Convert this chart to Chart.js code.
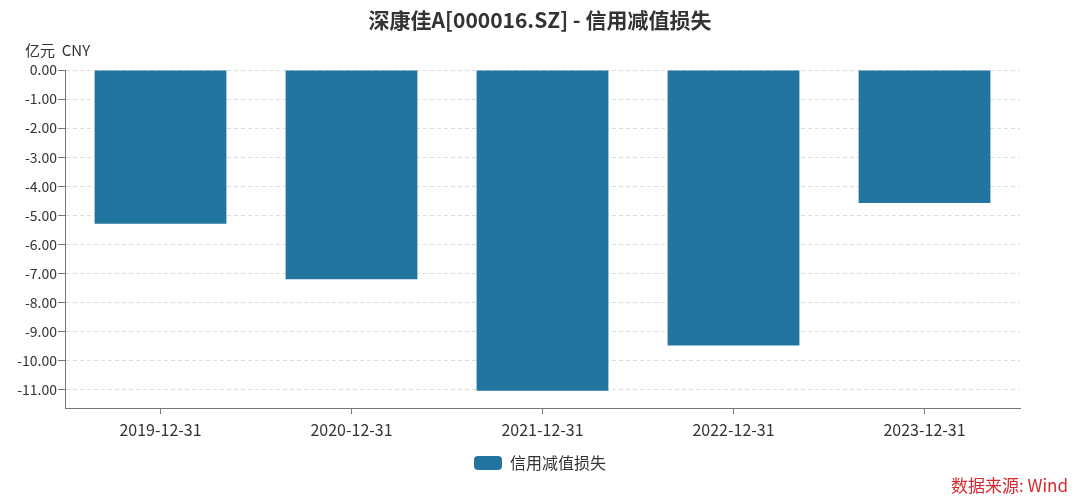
<!DOCTYPE html>
<html>
<head>
<meta charset="utf-8">
<script src="https://cdn.jsdelivr.net/npm/chart.js@4/dist/chart.umd.min.js"></script>
<style>
    body { margin: 0; background: #fff; }
    #wrap { width: 1080px; height: 504px; }
</style>
</head>
<body>
<div id="wrap"><canvas id="chart" width="1080" height="504"></canvas></div>
<script>
// Data
const categories = ["2019-12-31", "2020-12-31", "2021-12-31", "2022-12-31", "2023-12-31"];
const lossValues = [-5.29, -7.19, -11.03, -9.47, -4.57];
const seriesName = "信用减值损失";
const titleText = "深康佳A[000016.SZ] - 信用减值损失";
const unitText = "亿元  CNY";
const sourceText = "数据来源: Wind";

const FONT = "'Noto Sans CJK SC', 'Noto Sans', sans-serif";

// Title, unit and source text
const extraText = {
    id: "extraText",
    afterDraw(chart) {
        const ctx = chart.ctx;
        ctx.save();
        ctx.fillStyle = "#333";
        ctx.font = "bold 21px " + FONT;
        ctx.textAlign = "center";
        ctx.textBaseline = "middle";
        ctx.fillText(titleText, 540, 20);

        ctx.font = "15px " + FONT;
        ctx.textAlign = "left";
        ctx.fillText(unitText, 25, 50);

        ctx.fillStyle = "#d7282f";
        ctx.font = "17px " + FONT;
        ctx.textAlign = "right";
        ctx.fillText(sourceText, 1068, 486);
        ctx.restore();
    }
};

const ctx = document.getElementById("chart").getContext("2d");
new Chart(ctx, {
    type: "bar",
    data: {
        labels: categories,
        datasets: [
            {
                label: seriesName,
                data: lossValues,
                backgroundColor: "#2275a0",
                borderWidth: 0,
                categoryPercentage: 1,
                barPercentage: 0.69,
            },
        ],
    },
    options: {
        responsive: false,
        animation: false,
        layout: {
            padding: { left: 0, right: 0, top: 70, bottom: 23 },
        },
        plugins: {
            title: { display: false },
            tooltip: { enabled: false },
            legend: {
                position: "bottom",
                labels: {
                    boxWidth: 28,
                    boxHeight: 14,
                    padding: 10,
                    color: "#333",
                    useBorderRadius: true,
                    borderRadius: 4,
                    font: { family: FONT, size: 16 },
                },
            },
        },
        scales: {
            x: {
                grid: {
                    display: true,
                    offset: false,
                    drawOnChartArea: false,
                    drawTicks: true,
                    tickLength: 6,
                    tickColor: "#777",
                },
                border: { display: true, color: "#777", width: 1 },
                ticks: {
                    color: "#333",
                    padding: 6,
                    font: { family: FONT, size: 16 },
                },
                afterFit(scale) {
                    scale.height = 37;
                },
            },
            y: {
                min: -11.62,
                max: 0,
                grid: {
                    color: "#dddddd",
                    tickColor: "#777",
                    tickLength: 7,
                    tickBorderDash: [],
                    drawTicks: true,
                },
                border: { display: true, color: "#777", width: 1, dash: [4, 3] },
                ticks: {
                    stepSize: 1,
                    includeBounds: false,
                    color: "#333",
                    padding: 1,
                    font: { family: FONT, size: 14 },
                    callback: (v) => Number(v).toFixed(2),
                },
                afterFit(scale) {
                    scale.width = 65;
                },
            },
            // empty right-hand axis that only reserves the right margin
            yRight: {
                position: "right",
                grid: { display: false },
                border: { display: false },
                ticks: { display: false },
                afterFit(scale) {
                    scale.width = 60;
                },
            },
        },
    },
    plugins: [extraText],
});
</script>
</body>
</html>
